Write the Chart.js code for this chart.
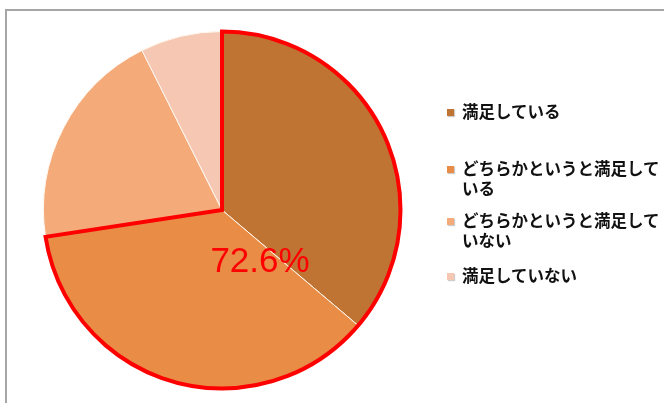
<!DOCTYPE html>
<html lang="ja">
<head>
  <meta charset="UTF-8" />
  <title>満足度</title>
  <script src="https://cdn.jsdelivr.net/npm/chart.js"></script>
  <style>
    body {
      margin: 0;
      background: #fff;
      font-family: 'Noto Sans CJK JP', sans-serif;
    }

    #wrap {
      position: relative;
      width: 664px;
      height: 403px;
      overflow: hidden;
    }

    #frame {
      position: absolute;
      left: 5px;
      top: 9px;
      width: 700px;
      height: 420px;
      border-top: 2px solid #a6a6a6;
      border-left: 2px solid #a6a6a6;
    }

    #pie {
      position: absolute;
      left: 0;
      top: 0;
    }

    #legend {
      position: absolute;
      left: 447px;
      top: 101px;
      width: 220px;
      margin: 0;
      padding: 0;
      list-style: none;
    }

    #legend li {
      position: relative;
      padding-left: 15px;
      font-size: 16.5px;
      font-weight: bold;
      line-height: 20px;
      color: #111;
    }

    #legend li span.box {
      position: absolute;
      left: 0;
      top: 8px;
      width: 7px;
      height: 7px;
      box-shadow: 1px 1px 1px rgba(0, 0, 0, 0.2);
    }

    #legend li:nth-child(1) { margin-bottom: 37px; }
    #legend li:nth-child(2) { margin-bottom: 12px; }
    #legend li:nth-child(3) { margin-bottom: 15px; }
  </style>
</head>
<body>
  <div id="wrap">
    <div id="frame"></div>
    <canvas id="pie" width="664" height="403"></canvas>
    <ul id="legend"></ul>
  </div>

  <script>
    const labels = ['満足している', 'どちらかというと満足している', 'どちらかというと満足していない', '満足していない'];
    const values = [36.2, 36.4, 20.0, 7.4];
    const colors = ['#c07434', '#e88c46', '#f5aa7a', '#f6c8b4'];
    const highlightText = '72.6%';

    // red outline round the first two slices plus the big label
    const highlight = {
      id: 'highlight',
      afterDatasetsDraw(chart) {
        const arcs = chart.getDatasetMeta(0).data;
        const a = arcs[0], b = arcs[1];
        const ctx = chart.ctx;
        ctx.save();
        ctx.beginPath();
        ctx.moveTo(a.x, a.y);
        ctx.arc(a.x, a.y, a.outerRadius, a.startAngle, b.endAngle);
        ctx.closePath();
        ctx.lineWidth = 4;
        ctx.lineJoin = 'miter';
        ctx.strokeStyle = '#ff0000';
        ctx.stroke();

        ctx.fillStyle = '#ff0000';
        ctx.font = '35px "Liberation Sans", Arial, sans-serif';
        ctx.textAlign = 'center';
        ctx.textBaseline = 'middle';
        ctx.fillText(highlightText, a.x + 38, a.y + 52);
        ctx.restore();
      }
    };

    new Chart(document.getElementById('pie'), {
      type: 'pie',
      data: {
        labels: labels,
        datasets: [{
          data: values,
          backgroundColor: colors,
          borderColor: '#fff8ee',
          borderWidth: 1
        }]
      },
      options: {
        responsive: false,
        animation: false,
        layout: {
          padding: { left: 43, top: 31, right: 263, bottom: 14 }
        },
        plugins: {
          legend: { display: false },
          tooltip: { enabled: false }
        }
      },
      plugins: [highlight]
    });

    const legend = document.getElementById('legend');
    labels.forEach((text, i) => {
      const li = document.createElement('li');
      const box = document.createElement('span');
      box.className = 'box';
      box.style.background = colors[i];
      li.appendChild(box);
      li.appendChild(document.createTextNode(text));
      legend.appendChild(li);
    });
  </script>
</body>
</html>
